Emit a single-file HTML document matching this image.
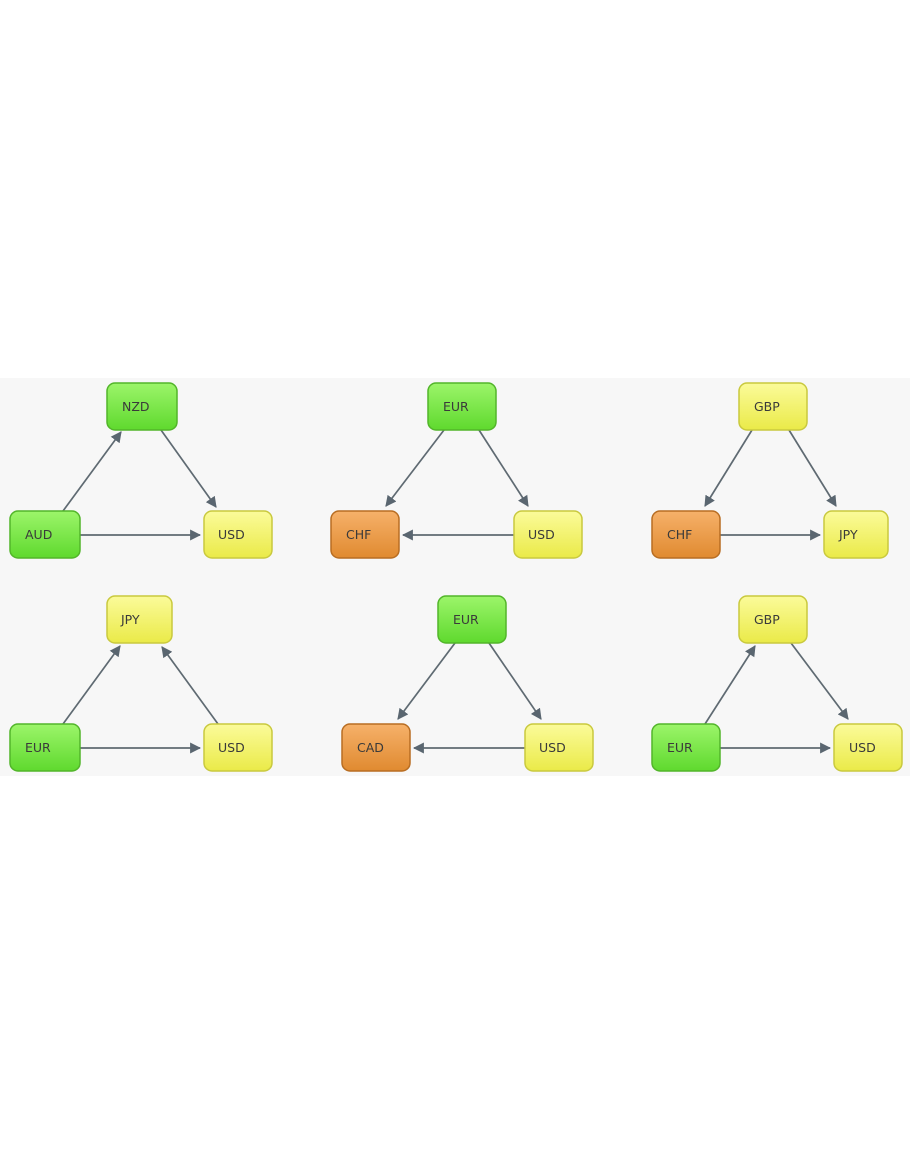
<!DOCTYPE html>
<html><head><style>
body{margin:0;background:#fff;}
svg{display:block}
text{font-family:"DejaVu Sans","Liberation Sans",sans-serif;font-size:12.5px;fill:#3a3a3a;}
</style></head><body>
<svg width="910" height="1155" viewBox="0 0 910 1155">
<defs>
<linearGradient id="g" x1="0" y1="0" x2="0" y2="1"><stop offset="0" stop-color="#9cf56a"/><stop offset="1" stop-color="#5fd92e"/></linearGradient>
<linearGradient id="y" x1="0" y1="0" x2="0" y2="1"><stop offset="0" stop-color="#fbfb9a"/><stop offset="1" stop-color="#eaea48"/></linearGradient>
<linearGradient id="o" x1="0" y1="0" x2="0" y2="1"><stop offset="0" stop-color="#f6b16a"/><stop offset="1" stop-color="#e08a30"/></linearGradient>
<marker id="a" viewBox="0 0 10 10" refX="9" refY="5" markerWidth="11" markerHeight="11" markerUnits="userSpaceOnUse" orient="auto"><path d="M0,0L10,5L0,10z" fill="#5a6670"/></marker>
</defs>
<rect x="0" y="378" width="910" height="398" fill="#f7f7f7"/>
<g stroke="#5f6a72" stroke-width="1.7" marker-end="url(#a)" fill="none">
<line x1="63" y1="511" x2="121" y2="432"/><line x1="161" y1="430" x2="216" y2="507"/><line x1="80" y1="535" x2="200" y2="535"/>
<line x1="444" y1="430" x2="386" y2="506"/><line x1="479" y1="430" x2="528" y2="506"/><line x1="514" y1="535" x2="403" y2="535"/>
<line x1="752" y1="430" x2="705" y2="506"/><line x1="789" y1="430" x2="836" y2="506"/><line x1="720" y1="535" x2="820" y2="535"/>
<line x1="63" y1="724" x2="120" y2="646"/><line x1="218" y1="724" x2="162" y2="647"/><line x1="80" y1="748" x2="200" y2="748"/>
<line x1="455" y1="643" x2="398" y2="719"/><line x1="489" y1="643" x2="541" y2="719"/><line x1="525" y1="748" x2="414" y2="748"/>
<line x1="705" y1="724" x2="755" y2="646"/><line x1="791" y1="643" x2="848" y2="719"/><line x1="720" y1="748" x2="830" y2="748"/>
</g>
<g stroke-width="1.5">
<rect x="107" y="383" width="70" height="47" rx="8" fill="url(#g)" stroke="#52b52a"/><text x="122" y="411">NZD</text>
<rect x="10" y="511" width="70" height="47" rx="8" fill="url(#g)" stroke="#52b52a"/><text x="25" y="539">AUD</text>
<rect x="204" y="511" width="68" height="47" rx="8" fill="url(#y)" stroke="#c9c93e"/><text x="218" y="539">USD</text>
<rect x="428" y="383" width="68" height="47" rx="8" fill="url(#g)" stroke="#52b52a"/><text x="443" y="411">EUR</text>
<rect x="331" y="511" width="68" height="47" rx="8" fill="url(#o)" stroke="#b86d22"/><text x="346" y="539">CHF</text>
<rect x="514" y="511" width="68" height="47" rx="8" fill="url(#y)" stroke="#c9c93e"/><text x="528" y="539">USD</text>
<rect x="739" y="383" width="68" height="47" rx="8" fill="url(#y)" stroke="#c9c93e"/><text x="754" y="411">GBP</text>
<rect x="652" y="511" width="68" height="47" rx="8" fill="url(#o)" stroke="#b86d22"/><text x="667" y="539">CHF</text>
<rect x="824" y="511" width="64" height="47" rx="8" fill="url(#y)" stroke="#c9c93e"/><text x="839" y="539">JPY</text>
<rect x="107" y="596" width="65" height="47" rx="8" fill="url(#y)" stroke="#c9c93e"/><text x="121" y="624">JPY</text>
<rect x="10" y="724" width="70" height="47" rx="8" fill="url(#g)" stroke="#52b52a"/><text x="25" y="752">EUR</text>
<rect x="204" y="724" width="68" height="47" rx="8" fill="url(#y)" stroke="#c9c93e"/><text x="218" y="752">USD</text>
<rect x="438" y="596" width="68" height="47" rx="8" fill="url(#g)" stroke="#52b52a"/><text x="453" y="624">EUR</text>
<rect x="342" y="724" width="68" height="47" rx="8" fill="url(#o)" stroke="#b86d22"/><text x="357" y="752">CAD</text>
<rect x="525" y="724" width="68" height="47" rx="8" fill="url(#y)" stroke="#c9c93e"/><text x="539" y="752">USD</text>
<rect x="739" y="596" width="68" height="47" rx="8" fill="url(#y)" stroke="#c9c93e"/><text x="754" y="624">GBP</text>
<rect x="652" y="724" width="68" height="47" rx="8" fill="url(#g)" stroke="#52b52a"/><text x="667" y="752">EUR</text>
<rect x="834" y="724" width="68" height="47" rx="8" fill="url(#y)" stroke="#c9c93e"/><text x="849" y="752">USD</text>
</g>
</svg>
</body></html>
